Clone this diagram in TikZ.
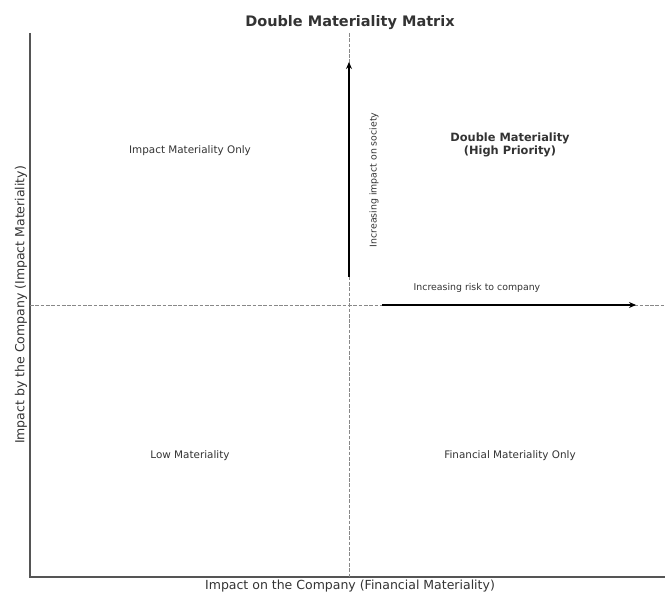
\documentclass[tikz,border=0pt]{standalone}
\usepackage{fontspec}
\setmainfont{DejaVu Sans}
\usetikzlibrary{arrows.meta}
\definecolor{ink}{HTML}{333333}
\definecolor{spinegray}{HTML}{555555}
\definecolor{guide}{HTML}{888888}
\tikzset{
  quadlabel/.style={text=ink, inner sep=0pt, font=\fontsize{10.4}{12.5}\selectfont},
  hilabel/.style={text=ink, inner sep=0pt, align=center, font=\fontsize{11.4}{12.6}\selectfont\bfseries},
  arrowlabel/.style={text=ink, inner sep=0pt, font=\fontsize{9.36}{11}\selectfont},
  axislabel/.style={text=ink, inner sep=0pt, font=\fontsize{12.5}{15}\selectfont},
  titlelabel/.style={text=ink, inner sep=0pt, font=\fontsize{14.5}{17}\selectfont\bfseries},
  spine/.style={draw=spinegray, line width=1.2pt},
  guideline/.style={draw=guide, line width=0.9pt, dash pattern=on 3.7pt off 1.6pt},
  trend/.style={draw=black, line width=1.5pt, -{Stealth[length=7pt,width=6pt]}}
}
\begin{document}
\begin{tikzpicture}[x=1pt, y=-1pt]
  \useasboundingbox (0,0) rectangle (665,593);

  % axes frame and the corner points of the plotting area
  \coordinate (tl) at (30,33);
  \coordinate (bl) at (30,577);
  \coordinate (br) at (665,577);
  \draw[spine] (tl) -- (bl) -- (br);

  % quadrant dividers
  \coordinate (vtop) at (349,33);
  \coordinate (vbot) at (349,577);
  \coordinate (hleft) at (30,305);
  \coordinate (hright) at (665,305);
  \draw[guideline] (vtop) -- (vbot);
  \draw[guideline] (hleft) -- (hright);

  % direction arrows
  \coordinate (uparrowstart) at (349,277);
  \coordinate (uparrowend) at (349,62);
  \coordinate (rarrowstart) at (382,305);
  \coordinate (rarrowend) at (636,305);
  \draw[trend] (uparrowstart) -- (uparrowend);
  \draw[trend] (rarrowstart) -- (rarrowend);

  \node[arrowlabel, rotate=90] (society) at (374,180) {Increasing impact on society};
  \node[arrowlabel] (risk) at (477,288) {Increasing risk to company};

  % quadrant labels
  \node[quadlabel] (impactonly) at (190,151) {Impact Materiality Only};
  \node[hilabel] (double) at (510,145) {Double Materiality\\(High Priority)};
  \node[quadlabel] (low) at (190,456) {Low Materiality};
  \node[quadlabel] (financial) at (510,456) {Financial Materiality Only};

  % title and axis labels
  \node[titlelabel] (title) at (350,23) {Double Materiality Matrix};
  \node[axislabel] (xlabel) at (350,586.5) {Impact on the Company (Financial Materiality)};
  \node[axislabel, rotate=90] (ylabel) at (21,305) {Impact by the Company (Impact Materiality)};
\end{tikzpicture}
\end{document}
